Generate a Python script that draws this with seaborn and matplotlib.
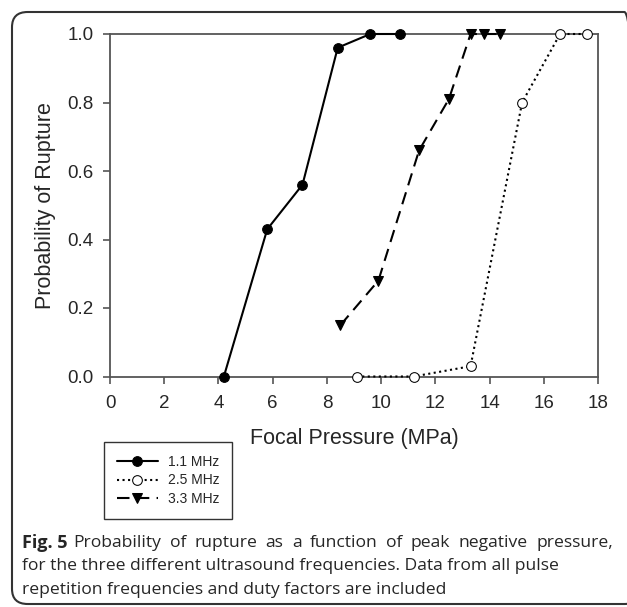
import matplotlib
matplotlib.use("Agg")
import matplotlib.pyplot as plt
import seaborn as sns
import pandas as pd
from matplotlib.patches import FancyBboxPatch

# Data
x_11 = [4.2, 5.8, 7.1, 8.4, 9.6, 10.7]
y_11 = [0.0, 0.43, 0.56, 0.96, 1.0, 1.0]
x_25 = [9.1, 11.2, 13.3, 15.2, 16.6, 17.6]
y_25 = [0.0, 0.0, 0.03, 0.80, 1.0, 1.0]
x_33 = [8.5, 9.9, 11.4, 12.5, 13.3, 13.8, 14.4]
y_33 = [0.15, 0.28, 0.66, 0.81, 1.0, 1.0, 1.0]
labels = ["1.1 MHz", "2.5 MHz", "3.3 MHz"]
xticks = [0, 2, 4, 6, 8, 10, 12, 14, 16, 18]
yticks = [0.0, 0.2, 0.4, 0.6, 0.8, 1.0]
caption_bold = "Fig. 5"
caption_lines = [
    "Probability of rupture as a function of peak negative pressure,",
    "for the three different ultrasound frequencies. Data from all pulse",
    "repetition frequencies and duty factors are included",
]

sns.set_style("ticks")
plt.rcParams['font.family'] = ['Liberation Sans', 'DejaVu Sans']

W, H = 627, 607
fig = plt.figure(figsize=(W / 100, H / 100), dpi=100)
left, right, top, bottom = 110, 598, 34, 376.5
ax = fig.add_axes([left / W, 1 - bottom / H, (right - left) / W, (bottom - top) / H])

styles = [
    dict(linestyle='-', marker='o', markerfacecolor='black', markeredgecolor='black', markersize=7),
    dict(linestyle=':', marker='o', markerfacecolor='white', markeredgecolor='black', markersize=7),
    dict(linestyle=(0, (6, 3.5)), marker='v', markerfacecolor='black', markeredgecolor='black', markersize=7),
]
series = [(x_11, y_11), (x_25, y_25), (x_33, y_33)]
for (xs, ys), lab, st in zip(series, labels, styles):
    df = pd.DataFrame({"x": xs, "y": ys})
    sns.lineplot(data=df, x="x", y="y", ax=ax, color='black', linewidth=1.5,
                 label=lab, clip_on=False, zorder=5, sort=False, estimator=None, **st)

ax.set_xlim(0, 18)
ax.set_ylim(0, 1.0)
ax.set_xticks(xticks)
ax.set_yticks(yticks)
ax.set_yticklabels([f"{v:.1f}" for v in yticks])
ax.set_xticklabels([str(v) for v in xticks])
ax.tick_params(axis='both', labelsize=13.5, length=5, width=1.2, color='#555555', direction='out')
ax.tick_params(axis='x', pad=8)
ax.tick_params(axis='y', pad=7)
for s in ax.spines.values():
    s.set_visible(True)
    s.set_color('#555555')
    s.set_linewidth(1.3)
ax.set_xlabel("Focal Pressure (MPa)", fontsize=15.5, labelpad=12)
ax.set_ylabel("Probability of Rupture", fontsize=15.5, labelpad=8)

ax.get_legend().remove()
handles, labs = ax.get_legend_handles_labels()
leg = fig.legend(handles, labs, loc='upper left',
                 bbox_to_anchor=(104 / W, 1 - 442 / H), fontsize=10,
                 frameon=True, fancybox=False, edgecolor='black', handlelength=3.0,
                 borderpad=0.9, labelspacing=0.35, handletextpad=0.7, borderaxespad=0)
leg.get_frame().set_linewidth(1.0)

# Caption
cap_font = ['Open Sans', 'DejaVu Sans']
cap_size = 12.6
fig.canvas.draw()
rend = fig.canvas.get_renderer()
y1, y2, y3 = 543, 566.5, 590
t0 = fig.text(22 / W, 1 - y1 / H, caption_bold, fontsize=cap_size + 0.4, fontweight='bold',
              family=cap_font, va='center', ha='left')
bb = t0.get_window_extent(renderer=rend)
# justify first line to the right edge
words = caption_lines[0].split(" ")
start_x, end_x = bb.x1 + 6, 613
wtexts = [fig.text(0, 1 - y1 / H, w, fontsize=cap_size, family=cap_font, va='center', ha='left')
          for w in words]
widths = [t.get_window_extent(renderer=rend).width for t in wtexts]
gap = (end_x - start_x - sum(widths)) / (len(words) - 1)
xpos = start_x
for t, w in zip(wtexts, widths):
    t.set_x(xpos / W)
    xpos += w + gap
fig.text(22 / W, 1 - y2 / H, caption_lines[1],
         fontsize=cap_size, family=cap_font, va='center', ha='left')
fig.text(22 / W, 1 - y3 / H, caption_lines[2],
         fontsize=cap_size, family=cap_font, va='center', ha='left')

# Rounded frame
frame = FancyBboxPatch((12 / W, 1 - 604 / H), (640 - 12) / W, (604 - 12) / H,
                       boxstyle="round,pad=0,rounding_size=0.025", transform=fig.transFigure,
                       fill=False, edgecolor='#333333', linewidth=1.5, clip_on=False)
fig.patches.append(frame)

fig.savefig("out.png", dpi=100)
